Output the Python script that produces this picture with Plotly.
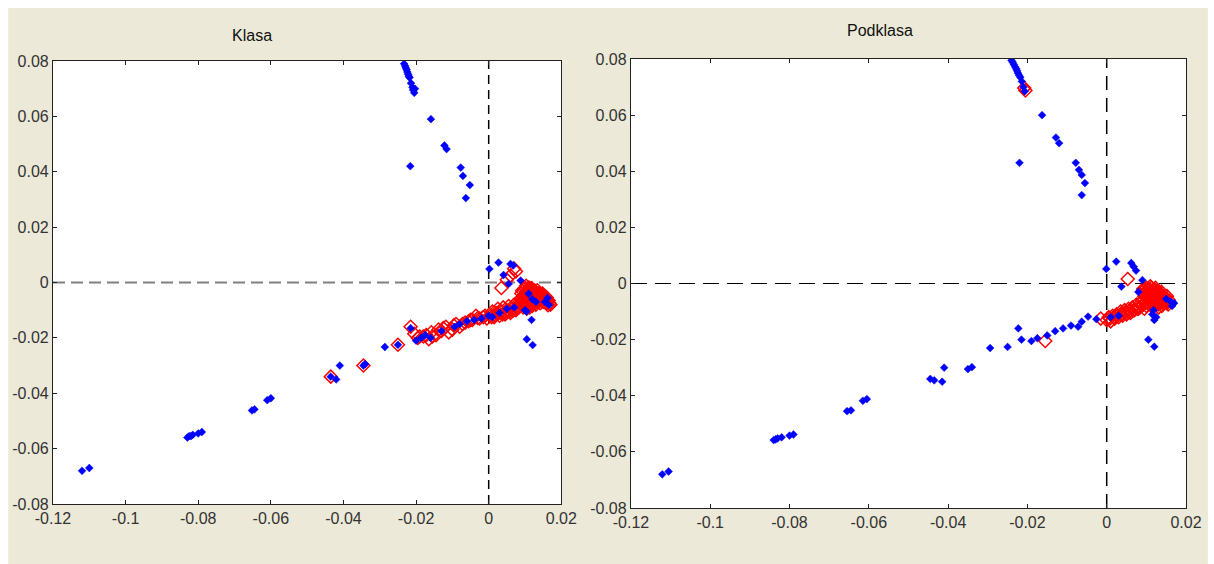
import plotly.graph_objects as go

# ---------------- data ----------------
x_ticks = [-0.12, -0.1, -0.08, -0.06, -0.04, -0.02, 0, 0.02]
x_tick_labels = ["-0.12", "-0.1", "-0.08", "-0.06", "-0.04", "-0.02", "0", "0.02"]
y_ticks = [-0.08, -0.06, -0.04, -0.02, 0, 0.02, 0.04, 0.06, 0.08]
y_tick_labels = ["-0.08", "-0.06", "-0.04", "-0.02", "0", "0.02", "0.04", "0.06", "0.08"]
titles = ["Klasa", "Podklasa"]

left_blue_x = [-0.0233, -0.0230, -0.0228, -0.0226, -0.0224, -0.0222, -0.0220, -0.0218, -0.0214, -0.0210,
               -0.0208, -0.0205, -0.0203, -0.0159, -0.0122, -0.0116, -0.0216, -0.0077, -0.0071, -0.0052,
               -0.0063,
               -0.1120, -0.1100, -0.0830, -0.0825, -0.0820, -0.0815, -0.0800, -0.0790, -0.0652, -0.0645,
               -0.0610, -0.0600, -0.0435, -0.0420, -0.0410, -0.0345, -0.0340, -0.0286, -0.0250, -0.0215,
               -0.0200, -0.0186, -0.0175, -0.0160, -0.0130, -0.0094, -0.0080, -0.0060, -0.0040, -0.0020,
               0.0000, 0.0010, 0.0030, 0.0050, 0.0070,
               0.0027, 0.0002, 0.0060, 0.0041, 0.0088, 0.0055, 0.0104, 0.0118, 0.0105, 0.0121,
               0.0166, 0.0162, 0.0155, 0.0120, 0.0110, 0.0130, 0.0068, 0.0100]
left_blue_y = [0.0790, 0.0782, 0.0775, 0.0768, 0.0760, 0.0752, 0.0745, 0.0740, 0.0720, 0.0705,
               0.0695, 0.0685, 0.0700, 0.0590, 0.0495, 0.0482, 0.0420, 0.0415, 0.0385, 0.0352,
               0.0305,
               -0.0680, -0.0670, -0.0560, -0.0555, -0.0555, -0.0550, -0.0545, -0.0540, -0.0462, -0.0458,
               -0.0425, -0.0418, -0.0340, -0.0350, -0.0300, -0.0300, -0.0295, -0.0233, -0.0225, -0.0165,
               -0.0210, -0.0200, -0.0190, -0.0200, -0.0175, -0.0160, -0.0150, -0.0140, -0.0135, -0.0130,
               -0.0120, -0.0125, -0.0110, -0.0095, -0.0090,
               0.0072, 0.0049, 0.0067, 0.0027, 0.0007, -0.0005, -0.0105, -0.0135, -0.0205, -0.0226,
               -0.0081, -0.0056, -0.0070, -0.0060, -0.0040, -0.0070, 0.0062, -0.0100]

left_red_x = [-0.0435, -0.0345, -0.0250, -0.0215, -0.0205, -0.0195, -0.0180, -0.0165, -0.0155, -0.0145,
              -0.0130, -0.0125, -0.0110, -0.0100, -0.0090, -0.0080, -0.0065, -0.0055, -0.0045, -0.0035,
              -0.0025, -0.0015, -0.0005, 0.0005, 0.0010, 0.0015, 0.0020, 0.0025, 0.0030, 0.0035,
              0.0040, 0.0045, 0.0050, 0.0055, 0.0060, 0.0065, 0.0070, 0.0075, 0.0080, 0.0085,
              0.0090, 0.0095, 0.0095, 0.0100, 0.0100, 0.0100, 0.0105, 0.0105, 0.0105, 0.0110,
              0.0110, 0.0110, 0.0115, 0.0115, 0.0120, 0.0120, 0.0120, 0.0125, 0.0125, 0.0130,
              0.0130, 0.0130, 0.0135, 0.0140, 0.0140, 0.0145, 0.0150, 0.0150, 0.0155, 0.0160,
              0.0160, 0.0165, 0.0170,
              0.0035, 0.0050, 0.0060, 0.0070, 0.0075,
              0.0092, 0.0097, 0.0102, 0.0107, 0.0112, 0.0117, 0.0122, 0.0127, 0.0132, 0.0137,
              0.0142, 0.0147, 0.0152, 0.0157, 0.0162, 0.0167, 0.0112, 0.0118, 0.0123, 0.0128,
              0.0133, 0.0108, 0.0098, 0.0088, 0.0093, 0.0103, 0.0113, 0.0083, 0.0078, 0.0068,
              0.0058, 0.0048, 0.0038, 0.0028, 0.0018, 0.0008, 0.0137, 0.0143, 0.0148, 0.0153,
              0.0107, 0.0117, 0.0127, 0.0097, 0.0087,
              -0.0190, -0.0172, -0.0158, -0.0138, -0.0118, -0.0096, -0.0072, -0.0050, -0.0030, -0.0010,
              0.0103, 0.0111, 0.0119, 0.0126, 0.0134, 0.0141, 0.0156, 0.0163]
left_red_y = [-0.0340, -0.0300, -0.0225, -0.0160, -0.0185, -0.0200, -0.0195, -0.0205, -0.0195, -0.0190,
              -0.0175, -0.0165, -0.0180, -0.0170, -0.0150, -0.0160, -0.0145, -0.0140, -0.0135, -0.0120,
              -0.0130, -0.0125, -0.0130, -0.0120, -0.0105, -0.0125, -0.0110, -0.0095, -0.0120, -0.0105,
              -0.0090, -0.0115, -0.0100, -0.0085, -0.0110, -0.0095, -0.0080, -0.0100, -0.0085, -0.0070,
              -0.0040, -0.0060, -0.0090, -0.0020, -0.0050, -0.0075, -0.0035, -0.0065, -0.0095, -0.0025,
              -0.0050, -0.0080, -0.0040, -0.0065, -0.0030, -0.0055, -0.0085, -0.0045, -0.0070, -0.0035,
              -0.0060, -0.0080, -0.0050, -0.0040, -0.0065, -0.0055, -0.0045, -0.0070, -0.0060, -0.0055,
              -0.0075, -0.0065, -0.0080,
              -0.0020, 0.0010, 0.0025, 0.0050, 0.0040,
              -0.0030, -0.0045, -0.0060, -0.0045, -0.0060, -0.0075, -0.0065, -0.0055, -0.0045, -0.0065,
              -0.0075, -0.0065, -0.0055, -0.0070, -0.0065, -0.0075, -0.0035, -0.0045, -0.0040, -0.0065,
              -0.0070, -0.0070, -0.0075, -0.0080, -0.0070, -0.0085, -0.0090, -0.0090, -0.0095, -0.0100,
              -0.0105, -0.0110, -0.0115, -0.0110, -0.0120, -0.0125, -0.0040, -0.0050, -0.0040, -0.0062,
              -0.0030, -0.0020, -0.0030, -0.0025, -0.0060,
              -0.0195, -0.0190, -0.0180, -0.0170, -0.0160, -0.0155, -0.0150, -0.0135, -0.0128, -0.0120,
              -0.0012, -0.0018, -0.0022, -0.0030, -0.0028, -0.0050, -0.0050, -0.0082]

right_blue_x = [-0.0240, -0.0237, -0.0234, -0.0231, -0.0228, -0.0226, -0.0224, -0.0221, -0.0218, -0.0214,
                -0.0210, -0.0207, -0.0163, -0.0128, -0.0120, -0.0220, -0.0078, -0.0070, -0.0063, -0.0055,
                -0.0063,
                -0.1121, -0.1105, -0.0840, -0.0835, -0.0830, -0.0820, -0.0800, -0.0790, -0.0655, -0.0645,
                -0.0615, -0.0605, -0.0445, -0.0435, -0.0415, -0.0410, -0.0350, -0.0340, -0.0294, -0.0250,
                -0.0223, -0.0215, -0.0190, -0.0175, -0.0150, -0.0130, -0.0110, -0.0090, -0.0072, -0.0063,
                -0.0047, -0.0026, 0.0010, 0.0030,
                0.0024, -0.0001, 0.0062, 0.0074, 0.0037, 0.0090, 0.0162, 0.0170, 0.0165, 0.0120,
                0.0115, 0.0105, 0.0120, 0.0080, 0.0068, 0.0150, 0.0125, 0.0118]
right_blue_y = [0.0795, 0.0788, 0.0780, 0.0772, 0.0765, 0.0758, 0.0750, 0.0742, 0.0735, 0.0720,
                0.0700, 0.0685, 0.0600, 0.0520, 0.0500, 0.0430, 0.0430, 0.0405, 0.0387, 0.0358,
                0.0315,
                -0.0680, -0.0670, -0.0558, -0.0555, -0.0552, -0.0548, -0.0542, -0.0538, -0.0455, -0.0452,
                -0.0418, -0.0412, -0.0340, -0.0345, -0.0350, -0.0300, -0.0305, -0.0298, -0.0230, -0.0226,
                -0.0160, -0.0200, -0.0205, -0.0195, -0.0185, -0.0170, -0.0160, -0.0150, -0.0154, -0.0136,
                -0.0118, -0.0127, -0.0120, -0.0115,
                0.0078, 0.0052, 0.0073, 0.0046, -0.0011, 0.0012, -0.0065, -0.0070, -0.0080, -0.0130,
                -0.0110, -0.0200, -0.0225, -0.0030, 0.0060, -0.0055, -0.0120, -0.0095]

right_red_x = [-0.0208, -0.0205, -0.0155,
               -0.0015, 0.0000, 0.0005, 0.0010, 0.0015, 0.0020, 0.0025, 0.0030, 0.0035, 0.0040,
               0.0045, 0.0050, 0.0055, 0.0060, 0.0065, 0.0070, 0.0075, 0.0080, 0.0085, 0.0053,
               0.0090, 0.0090, 0.0095, 0.0100, 0.0100, 0.0100, 0.0105, 0.0105, 0.0110, 0.0110,
               0.0110, 0.0115, 0.0115, 0.0120, 0.0120, 0.0120, 0.0125, 0.0125, 0.0130, 0.0130,
               0.0135, 0.0140, 0.0145, 0.0150, 0.0155, 0.0100, 0.0095,
               0.0092, 0.0097, 0.0102, 0.0107, 0.0112, 0.0117, 0.0122, 0.0127, 0.0132, 0.0137,
               0.0142, 0.0147, 0.0152, 0.0108, 0.0118, 0.0128, 0.0113, 0.0123, 0.0133, 0.0138,
               0.0143, 0.0148, 0.0103, 0.0093, 0.0088, 0.0083, 0.0078, 0.0068, 0.0058, 0.0048,
               0.0038, 0.0028, 0.0018, 0.0008, 0.0115, 0.0125, 0.0135, 0.0105,
               0.0157, 0.0152, 0.0139, 0.0131, 0.0121, 0.0111, 0.0101, 0.0096]
right_red_y = [0.0697, 0.0688, -0.0205,
               -0.0125, -0.0130, -0.0120, -0.0135, -0.0115, -0.0125, -0.0110, -0.0120, -0.0100, -0.0115,
               -0.0095, -0.0110, -0.0090, -0.0105, -0.0085, -0.0095, -0.0075, -0.0090, -0.0070, 0.0016,
               -0.0030, -0.0060, -0.0045, -0.0015, -0.0035, -0.0065, -0.0025, -0.0050, -0.0010, -0.0040,
               -0.0065, -0.0030, -0.0055, -0.0020, -0.0045, -0.0070, -0.0035, -0.0060, -0.0050, -0.0075,
               -0.0040, -0.0060, -0.0050, -0.0065, -0.0075, -0.0080, -0.0090,
               -0.0020, -0.0030, -0.0045, -0.0035, -0.0050, -0.0040, -0.0055, -0.0045, -0.0060, -0.0050,
               -0.0070, -0.0060, -0.0070, -0.0020, -0.0030, -0.0025, -0.0015, -0.0015, -0.0035, -0.0030,
               -0.0045, -0.0055, -0.0070, -0.0075, -0.0080, -0.0085, -0.0090, -0.0095, -0.0100, -0.0105,
               -0.0110, -0.0115, -0.0120, -0.0125, -0.0070, -0.0065, -0.0070, -0.0060,
               -0.0060, -0.0045, -0.0080, -0.0085, -0.0080, -0.0078, -0.0050, -0.0020]

# ---------------- layout geometry ----------------
W, H = 1214, 564
ML, MR, MT, MB = 53, 22, 59, 56
PW = W - ML - MR
PH = H - MT - MB


def fx(px):
    return (px - ML) / PW


def fy(py):
    return 1 - (py - MT) / PH


fig = go.Figure()

BLUE = "#0000ff"
RED = "#ff0000"

panels = [
    (left_red_x, left_red_y, left_blue_x, left_blue_y, "x", "y"),
    (right_red_x, right_red_y, right_blue_x, right_blue_y, "x2", "y2"),
]
for rx, ry, bx, by, xa, ya in panels:
    fig.add_trace(go.Scatter(x=rx, y=ry, mode="markers", xaxis=xa, yaxis=ya,
                             marker=dict(symbol="diamond-open", size=10, color=RED,
                                         line=dict(color=RED, width=1.5)),
                             showlegend=False, hoverinfo="skip"))
    fig.add_trace(go.Scatter(x=bx, y=by, mode="markers", xaxis=xa, yaxis=ya,
                             marker=dict(symbol="diamond", size=6, color=BLUE,
                                         line=dict(color=BLUE, width=0.5)),
                             showlegend=False, hoverinfo="skip"))

tick_font = dict(family="Liberation Sans, Arial, sans-serif", size=16, color="#333333")
axis_common = dict(showline=True, linecolor="#222222", linewidth=1.2, mirror="ticks",
                   ticks="inside", ticklen=4, tickcolor="#222222", showgrid=False,
                   zeroline=False, tickfont=tick_font)

fig.update_layout(
    width=W, height=H,
    margin=dict(l=ML, r=MR, t=MT, b=MB),
    paper_bgcolor="white",
    plot_bgcolor="white",
    xaxis=dict(domain=[fx(53), fx(564)], range=[-0.12, 0.02], anchor="y",
               tickvals=x_ticks, ticktext=x_tick_labels, **axis_common),
    yaxis=dict(domain=[fy(504), fy(61)], range=[-0.08, 0.08], anchor="x",
               tickvals=y_ticks, ticktext=y_tick_labels, **axis_common),
    xaxis2=dict(domain=[fx(634), fx(1192)], range=[-0.12, 0.02], anchor="y2",
                tickvals=x_ticks, ticktext=x_tick_labels, **axis_common),
    yaxis2=dict(domain=[fy(508), fy(59)], range=[-0.08, 0.08], anchor="x2",
                tickvals=y_ticks, ticktext=y_tick_labels, **axis_common),
)

shapes = [
    # beige window background
    dict(type="rect", xref="paper", yref="paper", x0=fx(8), x1=fx(1214), y0=fy(564), y1=fy(8),
         fillcolor="#ece9d8", line=dict(width=0), layer="below"),
    # white plot areas
    dict(type="rect", xref="x domain", yref="y domain", x0=0, x1=1, y0=0, y1=1,
         fillcolor="white", line=dict(width=0), layer="below"),
    dict(type="rect", xref="x2 domain", yref="y2 domain", x0=0, x1=1, y0=0, y1=1,
         fillcolor="white", line=dict(width=0), layer="below"),
    # left panel zero lines
    dict(type="line", xref="x", yref="y", x0=-0.12, x1=0.02, y0=0, y1=0,
         line=dict(color="#808080", width=2, dash="12px,6px"), layer="below"),
    dict(type="line", xref="x", yref="y", x0=0, x1=0, y0=-0.08, y1=0.08,
         line=dict(color="#000000", width=1.5, dash="9px,6px"), layer="below"),
    # right panel zero lines
    dict(type="line", xref="x2", yref="y2", x0=-0.12, x1=0.02, y0=0, y1=0,
         line=dict(color="#000000", width=1.2, dash="16px,8px"), layer="below"),
    dict(type="line", xref="x2", yref="y2", x0=0, x1=0, y0=-0.08, y1=0.08,
         line=dict(color="#000000", width=1.5, dash="14px,8px"), layer="below"),
]
fig.update_layout(shapes=shapes)

title_font = dict(family="Liberation Sans, Arial, sans-serif", size=16, color="#111111")
fig.add_annotation(text=titles[0], xref="paper", yref="paper", x=fx(253), y=fy(35),
                   showarrow=False, font=title_font, xanchor="center", yanchor="middle")
fig.add_annotation(text=titles[1], xref="paper", yref="paper", x=fx(884), y=fy(30),
                   showarrow=False, font=title_font, xanchor="center", yanchor="middle")

fig.write_html("out.html")
